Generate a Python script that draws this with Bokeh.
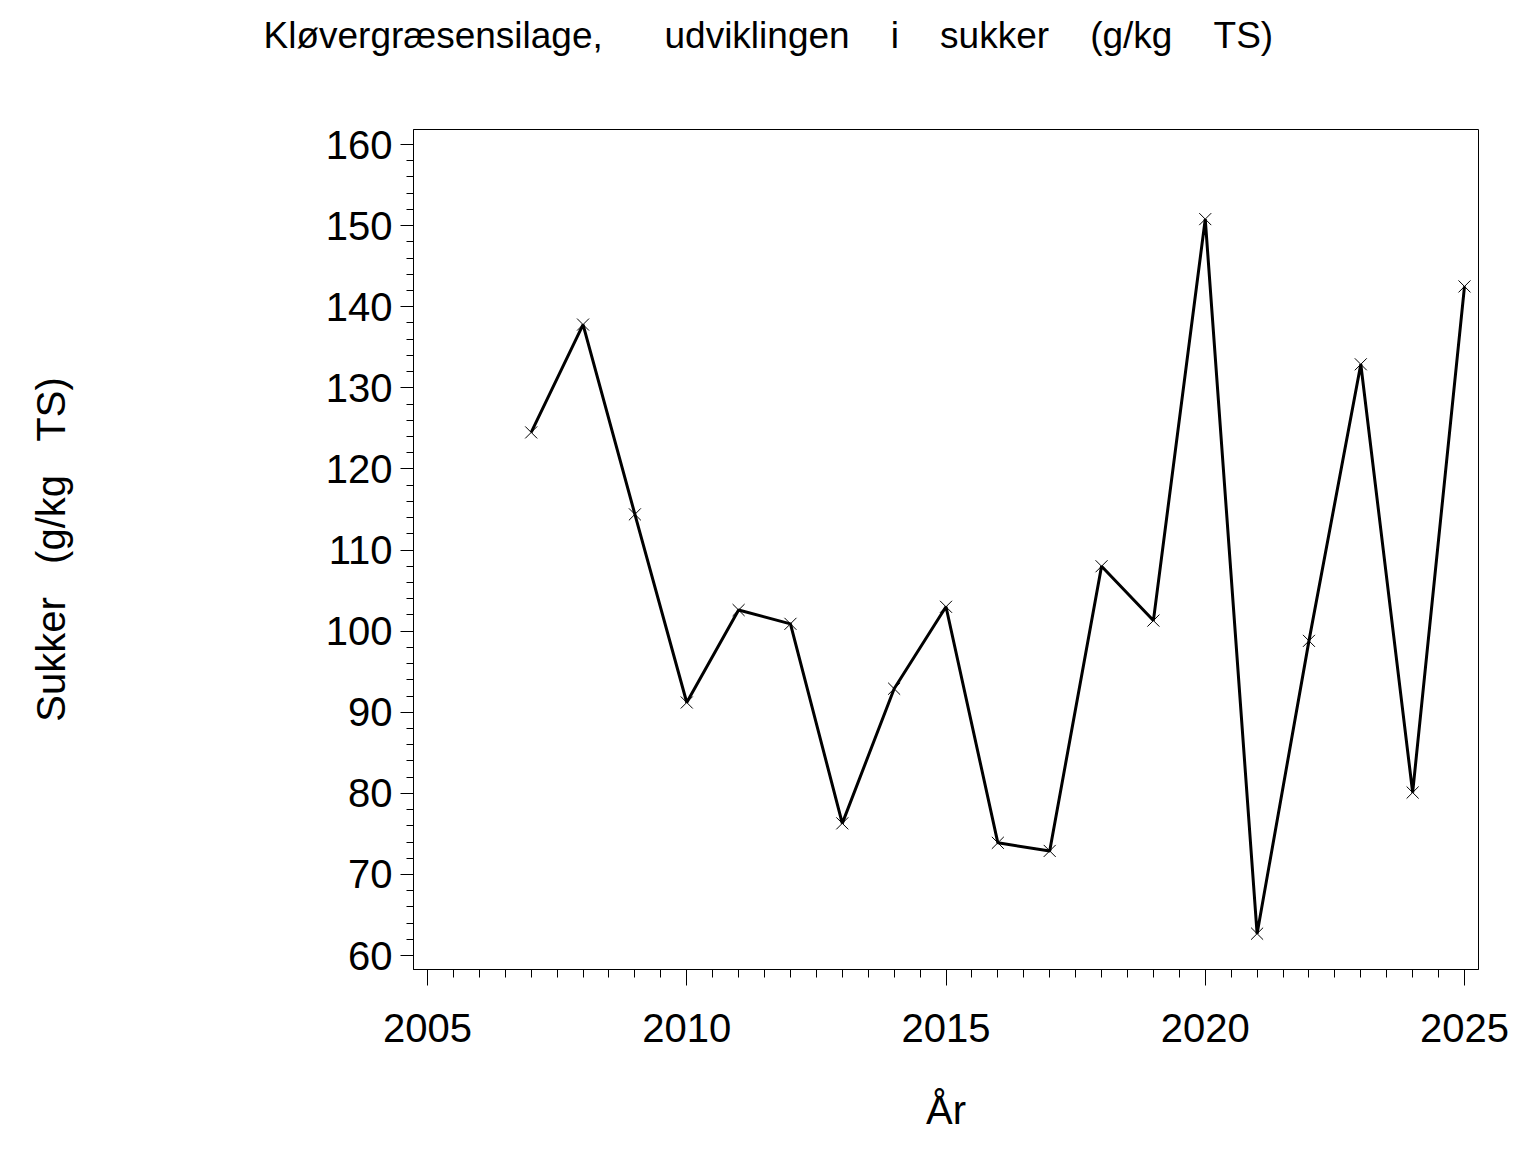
from bokeh.plotting import figure
from bokeh.models import Range1d, SingleIntervalTicker, Title
from bokeh.embed import file_html
from bokeh.resources import INLINE

years = [2007, 2008, 2009, 2010, 2011, 2012, 2013, 2014, 2015, 2016,
         2017, 2018, 2019, 2020, 2021, 2022, 2023, 2024, 2025]
sukker = [124.5, 137.8, 114.4, 91.2, 102.6, 100.9, 76.3, 92.9, 103.0, 73.9,
          72.9, 108.0, 101.3, 150.8, 62.7, 98.8, 132.9, 80.1, 142.5]

NB = "\u00a0"
title_text = ("Kløvergræsensilage," + NB * 6 + "udviklingen" + NB * 4 + "i" + NB * 4 +
              "sukker" + NB * 4 + "(g/kg" + NB * 4 + "TS)")
x_label = "År"
y_label = "Sukker" + NB * 3 + "(g/kg" + NB * 3 + "TS)"

FONT = "Liberation Sans"

p = figure(width=1520, height=1136, output_backend="svg", toolbar_location=None,
           x_range=Range1d(2004.73, 2025.27), y_range=Range1d(58.28, 161.85),
           min_border_left=413, min_border_right=42, min_border_bottom=167,
           min_border_top=0)

# spacer nearest the frame, then the real title above it
p.add_layout(Title(text=NB, text_font=FONT, text_font_size="10px", standoff=49), "above")
p.add_layout(Title(text=title_text, align="left", offset=-150,
                   text_font=FONT, text_font_size="37px", text_font_style="normal",
                   text_color="black", standoff=24), "above")

p.background_fill_color = "white"
p.border_fill_color = "white"
p.outline_line_color = "black"
p.outline_line_width = 1
p.grid.visible = False

p.line(years, sukker, line_color="black", line_width=3)
p.scatter(years, sukker, marker="x", size=17, line_color="black", line_width=1)

xa = p.xaxis[0]
xa.ticker = SingleIntervalTicker(interval=5, num_minor_ticks=10)
ya = p.yaxis[0]
ya.ticker = SingleIntervalTicker(interval=10, num_minor_ticks=5)

for ax in (xa, ya):
    ax.axis_line_color = "black"
    ax.major_tick_line_color = "black"
    ax.minor_tick_line_color = "black"
    ax.major_tick_in = 0
    ax.minor_tick_in = 0
    ax.major_label_text_font = FONT
    ax.major_label_text_font_size = "40px"
    ax.major_label_text_color = "black"
    ax.axis_label_text_font = FONT
    ax.axis_label_text_font_size = "40px"
    ax.axis_label_text_font_style = "normal"
    ax.axis_label_text_color = "black"

xa.major_tick_out = 16
xa.minor_tick_out = 8
xa.major_label_standoff = 28
xa.axis_label = x_label
xa.axis_label_standoff = 43

ya.major_tick_out = 13
ya.minor_tick_out = 7
ya.major_label_standoff = 8
ya.axis_label = y_label
ya.axis_label_standoff = 250

open("out.html", "w").write(file_html(p, INLINE))
